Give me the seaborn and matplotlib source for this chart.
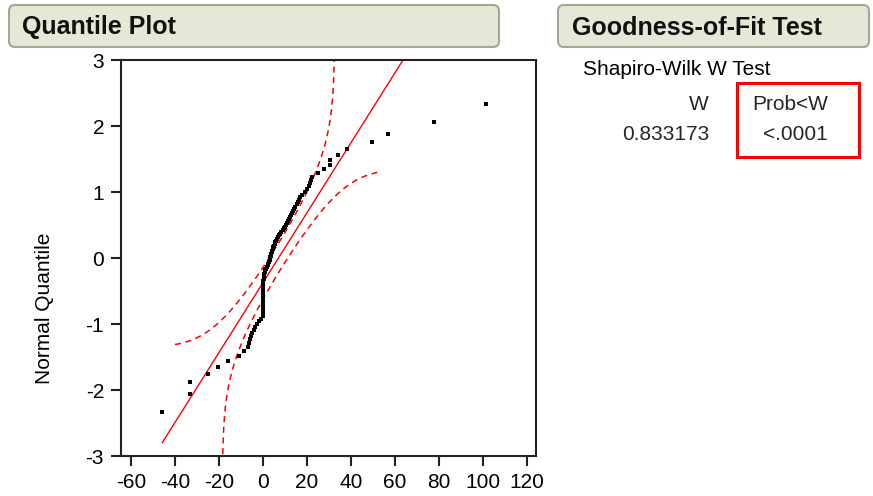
import numpy as np
import pandas as pd
import seaborn as sns
import matplotlib
matplotlib.use("Agg")
import matplotlib.pyplot as plt
from matplotlib.patches import FancyBboxPatch, Rectangle
from matplotlib.transforms import IdentityTransform
from statistics import NormalDist

# ---- data (sorted sample values) ----
values = [
    -45.8, -33.0, -33.0, -24.9, -20.3, -15.8, -10.8, -8.6, -7.0, -6.5,
    -6.0, -5.3, -4.8, -4.0, -3.4, -2.8, -2.0, -1.0, 0.0, 0.0,
    0.0, 0.0, 0.0, 0.0, 0.0, 0.0, 0.0, 0.0, 0.0, 0.0,
    0.0, 0.0, 0.0, 0.0, 0.0, 0.0, 0.2, 0.3, 0.4, 0.5,
    0.6, 0.8, 1.1, 1.4, 1.8, 2.1, 2.4, 2.8, 3.1, 3.4,
    3.4, 3.6, 3.8, 4.0, 4.3, 4.5, 4.7, 5.0, 5.3, 5.7,
    6.1, 6.5, 6.9, 7.3, 7.8, 8.4, 9.0, 9.5, 10.1, 10.6,
    11.0, 11.4, 11.9, 12.3, 12.7, 13.2, 13.7, 14.2, 14.7, 15.3,
    15.8, 16.3, 16.8, 17.6, 19.0, 20.0, 20.8, 21.3, 21.8, 22.4,
    25.2, 27.7, 30.5, 30.5, 34.2, 38.0, 49.7, 56.8, 77.6, 101.4,
]
x_ticks = [-60, -40, -20, 0, 20, 40, 60, 80, 100, 120]
y_ticks = [-3, -2, -1, 0, 1, 2, 3]
line_x_range = [-45.8, 63.5]     # extent of fitted normal line
band_x_range = [-40.0, 52.0]     # extent of confidence bands
w_stat = "0.833173"
p_value = "<.0001"

# ---- derived quantities ----
nd = NormalDist()
n = len(values)
vals = np.sort(np.array(values))
quant = np.array([nd.inv_cdf(i / (n + 1)) for i in range(1, n + 1)])
df = pd.DataFrame({"value": vals, "quantile": quant})
mean = vals.mean()
sd = vals.std(ddof=1)
D = 0.886 / np.sqrt(n)   # Lilliefors 95% critical value

# ---- figure ----
W, H = 873, 496
sns.set_theme(style="white")
plt.rcParams["font.family"] = ["Liberation Sans", "DejaVu Sans"]
fig = plt.figure(figsize=(W / 100, H / 100), dpi=100)
fig.patch.set_facecolor("white")

def fx(px):
    return px / W

def fy(py):
    return 1 - py / H

ax = fig.add_axes([fx(121), fy(456), (536 - 121) / W, (456 - 60) / H])
ax.set_xlim(-64.5, 124.1)
ax.set_ylim(-3, 3)

# fitted line
lx = np.array(line_x_range)
ly = (lx - mean) / sd
ax.plot(lx, ly, color="red", lw=1.0, zorder=2)

# confidence bands
bx = np.linspace(band_x_range[0], band_x_range[1], 4000)
p = np.array([nd.cdf((v - mean) / sd) for v in bx])
up = p + D
lo = p - D
mu = up < 1 - 1e-12
ml = lo > 1e-12
y_up = np.array([nd.inv_cdf(v) for v in up[mu]])
y_lo = np.array([nd.inv_cdf(v) for v in lo[ml]])
ax.plot(bx[mu], y_up, color="red", lw=1.1, dashes=(4, 3), zorder=2)
ax.plot(bx[ml], y_lo, color="red", lw=1.1, dashes=(4, 3), zorder=2)

# points
sns.scatterplot(data=df, x="value", y="quantile", ax=ax, marker="s",
                s=10, color="black", linewidth=0, zorder=3)

ax.set_xticks(x_ticks)
ax.set_yticks(y_ticks)
ax.set_xticklabels([str(t) for t in x_ticks])
ax.set_yticklabels([str(t) for t in y_ticks])
ax.set_xlabel("")
ax.set_ylabel("")
for s in ax.spines.values():
    s.set_color("#222222")
    s.set_linewidth(1.5)
ax.tick_params(direction="out", length=7.2, width=1.5, color="#222222",
               labelcolor="black", labelsize=15, pad=5,
               left=True, bottom=True)

fig.text(fx(45), fy(308), "Normal Quantile", rotation=90, ha="center",
         va="center", fontsize=15, color="black")

# header bars
for x0, x1 in [(9, 499), (558, 869)]:
    fig.patches.append(FancyBboxPatch(
        (x0, H - 47), x1 - x0, 42,
        boxstyle="round,pad=0,rounding_size=6",
        facecolor="#E7E7D7", edgecolor="#A6A696", lw=1.5,
        transform=IdentityTransform(), figure=fig))
fig.text(fx(22), fy(34), "Quantile Plot", fontsize=18, fontweight="bold",
         ha="left", va="baseline", color="#111111")
fig.text(fx(572), fy(35), "Goodness-of-Fit Test", fontsize=18,
         fontweight="bold", ha="left", va="baseline", color="#111111")

# test results
fig.text(fx(583), fy(75), "Shapiro-Wilk W Test", fontsize=15, ha="left",
         va="baseline", color="black")
fig.text(fx(709), fy(110), "W", fontsize=15, ha="right", va="baseline")
fig.text(fx(752), fy(110), "Prob<W", fontsize=15, ha="left", va="baseline")
fig.text(fx(709), fy(140), w_stat, fontsize=15, ha="right", va="baseline")
fig.text(fx(763), fy(140), p_value, fontsize=15, ha="left", va="baseline")
fig.patches.append(Rectangle((737, H - 157), 122, 74, fill=False,
                             edgecolor="red", lw=2.2,
                             transform=IdentityTransform(), figure=fig))

fig.savefig("out.png", dpi=100)
